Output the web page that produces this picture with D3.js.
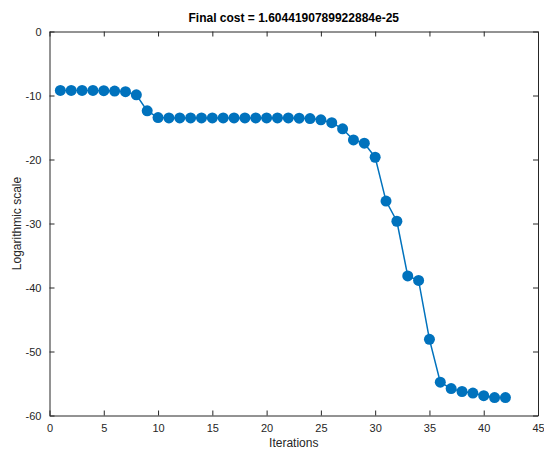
<!DOCTYPE html>
<html>
<head>
<meta charset="utf-8">
<script src="https://cdn.jsdelivr.net/npm/d3@7"></script>
<style>
  body { margin: 0; background: #fff; }
  text { font-family: "Liberation Sans", Arial, sans-serif; }
</style>
</head>
<body>
<div id="chart"></div>
<script>
// data
const iterations = d3.range(1, 43);
const logCost = [
  -9.2, -9.2, -9.2, -9.2, -9.25, -9.3, -9.4, -9.9, -12.4, -13.45,
  -13.5, -13.5, -13.5, -13.5, -13.5, -13.5, -13.5, -13.5, -13.5, -13.5,
  -13.5, -13.5, -13.55, -13.6, -13.8, -14.25, -15.2, -16.95, -17.45, -19.65,
  -26.5, -29.65, -38.2, -38.9, -48.1, -54.8, -55.8, -56.25, -56.5, -56.9,
  -57.2, -57.2
];
const xTicks = [0, 5, 10, 15, 20, 25, 30, 35, 40, 45];
const yTicks = [0, -10, -20, -30, -40, -50, -60];
const title = "Final cost = 1.6044190789922884e-25";

const W = 544, H = 449;
const m = { left: 49.5, right: 6, top: 31.5, bottom: 33.5 };

const svg = d3.select("#chart")
  .append("svg")
  .attr("width", W)
  .attr("height", H);

const x = d3.scaleLinear().domain([0, 45]).range([m.left, W - m.right]);
const y = d3.scaleLinear().domain([-60, 0]).range([H - m.bottom, m.top]);

const axisColor = "#262626";
const tickLen = 5;
const plain = d => String(d); // hyphen minus like the original

// axes (ticks inward, MATLAB box style)
const gx = svg.append("g")
  .attr("transform", `translate(0,${y(-60)})`)
  .call(d3.axisBottom(x).tickValues(xTicks).tickFormat(plain).tickSizeInner(-tickLen).tickSizeOuter(0).tickPadding(9));
const gy = svg.append("g")
  .attr("transform", `translate(${x(0)},0)`)
  .call(d3.axisLeft(y).tickValues(yTicks).tickFormat(plain).tickSizeInner(-tickLen).tickSizeOuter(0).tickPadding(8));
const gxTop = svg.append("g")
  .attr("transform", `translate(0,${y(0)})`)
  .call(d3.axisTop(x).tickValues(xTicks).tickSizeInner(-tickLen).tickSizeOuter(0).tickFormat(""));
const gyRight = svg.append("g")
  .attr("transform", `translate(${x(45)},0)`)
  .call(d3.axisRight(y).tickValues(yTicks).tickSizeInner(-tickLen).tickSizeOuter(0).tickFormat(""));

[gx, gy, gxTop, gyRight].forEach(g => {
  g.select(".domain").attr("stroke", axisColor).attr("stroke-width", 1);
  g.selectAll(".tick line").attr("stroke", axisColor).attr("stroke-width", 1);
  g.selectAll(".tick text")
    .attr("fill", axisColor)
    .style("font-size", "11px")
    .style("font-family", "'Liberation Sans', Arial, sans-serif");
});

// line + markers
const line = d3.line()
  .x((d, i) => x(iterations[i]))
  .y(d => y(d));

svg.append("path")
  .datum(logCost)
  .attr("fill", "none")
  .attr("stroke", "#0072BD")
  .attr("stroke-width", 1.5)
  .attr("d", line);

svg.append("g")
  .selectAll("circle")
  .data(logCost)
  .enter()
  .append("circle")
  .attr("cx", (d, i) => x(iterations[i]))
  .attr("cy", d => y(d))
  .attr("r", 5.5)
  .attr("fill", "#0072BD");

// labels
svg.append("text")
  .attr("x", (x(0) + x(45)) / 2)
  .attr("y", 22)
  .attr("text-anchor", "middle")
  .attr("fill", "#000")
  .style("font-size", "12px")
  .style("font-weight", "bold")
  .text(title);

svg.append("text")
  .attr("x", (x(0) + x(45)) / 2)
  .attr("y", 447)
  .attr("text-anchor", "middle")
  .attr("fill", axisColor)
  .style("font-size", "12px")
  .text("Iterations");

svg.append("text")
  .attr("transform", `translate(21,${(y(0) + y(-60)) / 2}) rotate(-90)`)
  .attr("text-anchor", "middle")
  .attr("fill", axisColor)
  .style("font-size", "12px")
  .text("Logarithmic scale");
</script>
</body>
</html>
